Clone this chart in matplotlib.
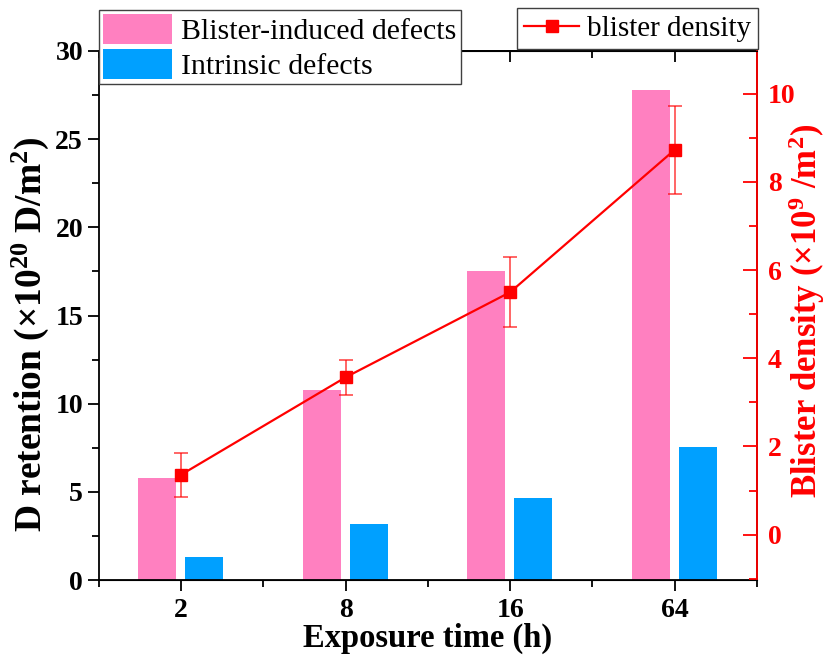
import numpy as np
import matplotlib
matplotlib.use('Agg')
import matplotlib.pyplot as plt
from matplotlib.lines import Line2D
from matplotlib.ticker import MultipleLocator

plt.rcParams['font.family'] = 'Liberation Serif'
plt.rcParams['mathtext.fontset'] = 'custom'
plt.rcParams['mathtext.rm'] = 'Liberation Serif:bold'
plt.rcParams['mathtext.default'] = 'rm'

times = ['2', '8', '16', '64']
blister_defects = [5.8, 10.8, 17.55, 27.8]
intrinsic_defects = [1.3, 3.2, 4.65, 7.55]
density = [1.36, 3.57, 5.5, 8.73]
density_err = [0.5, 0.4, 0.8, 1.0]

pink = '#FF80C0'
blue = '#00A0FF'
red = '#FF0000'

fig = plt.figure(figsize=(8.29, 6.6), dpi=100)
ax = fig.add_axes([99/829, 1-580/660, (757-99)/829, (580-51)/660])
x = np.arange(len(times))
w = 0.23
b1 = ax.bar(x - 0.145, blister_defects, w, color=pink, label='Blister-induced defects')
b2 = ax.bar(x + 0.14, intrinsic_defects, w, color=blue, label='Intrinsic defects')

ax.set_xlim(-0.5, 3.5)
ax.set_ylim(0, 30)
ax.set_xticks(x)
ax.set_xticklabels(times)
ax.xaxis.set_minor_locator(MultipleLocator(0.5))
ax.yaxis.set_major_locator(MultipleLocator(5))
ax.yaxis.set_minor_locator(MultipleLocator(2.5))
ax.tick_params(axis='both', which='major', direction='out', length=8, width=1.3, labelsize=20)
ax.tick_params(axis='both', which='minor', direction='out', length=5, width=1.3)
ax.tick_params(axis='x', which='major', pad=5)
for t in ax.get_xticklabels() + ax.get_yticklabels():
    t.set_fontweight('bold')
for s in ax.spines.values():
    s.set_linewidth(1.3)
ax.set_xlabel('Exposure time (h)', fontsize=23.5, fontweight='bold', labelpad=0)
ax.set_ylabel(r'D retention (×10$^{20}$ D/m$^{2}$)', fontsize=27, fontweight='bold')
ax.yaxis.set_label_coords(-0.073, 0.465)

# inward ticks along the top edge
top = ax.secondary_xaxis('top')
top.set_xticks(x)
top.xaxis.set_minor_locator(MultipleLocator(0.5))
top.tick_params(which='major', direction='in', length=8, width=1.3, labeltop=False)
top.tick_params(which='minor', direction='in', length=5, width=1.3)
top.spines['top'].set_linewidth(1.3)

ax2 = ax.twinx()
ax2.errorbar(x, density, yerr=density_err, fmt='none', ecolor=red, alpha=0.7,
             elinewidth=1.2, capsize=5, capthick=1.2)
line, = ax2.plot(x, density, color=red, lw=1.6, marker='s', markersize=9,
                 label='blister density')
ax2.set_ylim(-1.03, 10.97)
ax2.yaxis.set_major_locator(MultipleLocator(2))
ax2.yaxis.set_minor_locator(MultipleLocator(1))
ax2.tick_params(axis='y', which='major', direction='in', length=10, width=1.3,
                colors=red, labelsize=20, pad=8)
ax2.tick_params(axis='y', which='minor', direction='in', length=6, width=1.3, colors=red)
for t in ax2.get_yticklabels():
    t.set_fontweight('bold')
ax2.spines['right'].set_color(red)
ax2.spines['right'].set_linewidth(1.3)
ax2.spines['left'].set_visible(False)
ax2.set_ylabel(r'Blister density (×10$^{9}$ /m$^{2}$)', fontsize=25, fontweight='bold',
               color=red)
ax2.yaxis.set_label_coords(1.045, 0.508)

leg1 = fig.legend(handles=[b1, b2], loc='upper left', bbox_to_anchor=(99/829, 1-10/660),
                  fontsize=21.5, frameon=True, fancybox=False, edgecolor='#404040',
                  handlelength=2.3, handleheight=1.15, labelspacing=0.12,
                  handletextpad=0.3, borderpad=0.15, borderaxespad=0)
leg1.get_frame().set_linewidth(1.0)
leg1.get_frame().set_alpha(1)

handle = Line2D([], [], color=red, lw=1.6, marker='s', markersize=9)
leg2 = fig.legend(handles=[handle], labels=['blister density'], loc='upper right',
                  bbox_to_anchor=(758/829, 1-8/660), fontsize=21, frameon=True,
                  fancybox=False, edgecolor='#404040', handlelength=1.9,
                  handletextpad=0.25, borderpad=0.25, borderaxespad=0)
leg2.get_frame().set_linewidth(1.0)
leg2.get_frame().set_alpha(1)

fig.savefig('out.png', dpi=100)
